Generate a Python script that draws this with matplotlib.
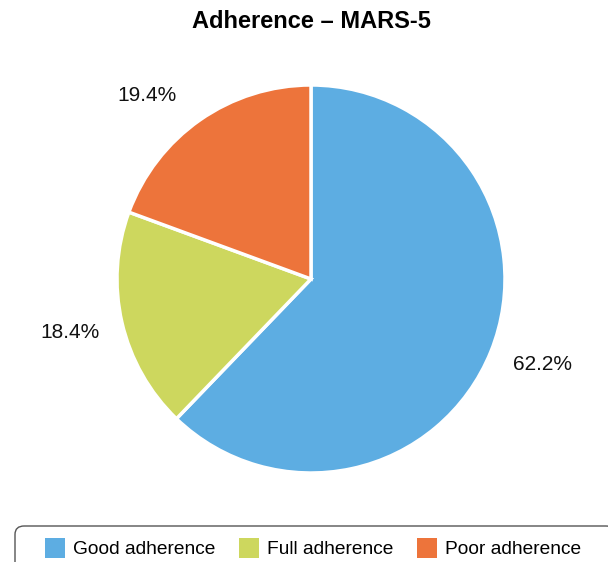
import numpy as np
import matplotlib.pyplot as plt
from matplotlib.patches import FancyBboxPatch

plt.rcParams["font.family"] = ["Liberation Sans", "DejaVu Sans"]

categories = ["Good adherence", "Full adherence", "Poor adherence"]
shares = [62.2, 18.4, 19.4]
colors = ["#5DADE2", "#CDD75E", "#ED743B"]
title = "Adherence \u2013 MARS-5"

W, H = 608, 562
fig = plt.figure(figsize=(W / 100, H / 100), dpi=100)

cx, cy, r = 311, 279, 194
ax = fig.add_axes([(cx - r) / W, (H - cy - r) / H, 2 * r / W, 2 * r / H])
wedges, _ = ax.pie(
    shares,
    colors=colors,
    startangle=90,
    counterclock=False,
    wedgeprops=dict(edgecolor="white", linewidth=2.5),
)

# percent labels outside the slices (small angular nudge to mimic the original layout)
label_nudge = [1.7, -0.5, 6.8]
for w, v, nd in zip(wedges, shares, label_nudge):
    ang = np.deg2rad((w.theta1 + w.theta2) / 2 + nd)
    ax.text(1.27 * np.cos(ang), 1.27 * np.sin(ang), f"{v:.1f}%",
            ha="center", va="center", fontsize=15, color="#111111")
ax.set_xlim(-1, 1)
ax.set_ylim(-1, 1)
ax.set_aspect("equal")

fig.text(cx / W, 1 - 22 / H, title, ha="center", va="center",
         fontsize=17, fontweight="bold")

# legend box (runs off the bottom of the canvas)
box = FancyBboxPatch((15 / W, -30 / H), 600 / W, (H - 526 + 30) / H,
                     boxstyle="round,pad=0,rounding_size=0.015",
                     transform=fig.transFigure, facecolor="white",
                     edgecolor="#555555", linewidth=1.0)
fig.patches.append(box)
fig.legend(wedges, categories, loc="center left",
           bbox_to_anchor=(28 / W, 1 - 548 / H), ncol=3, frameon=False,
           fontsize=13.75, handlelength=1.05, handleheight=1.3,
           handletextpad=0.4, columnspacing=1.25)
for h in fig.legends[0].legend_handles:
    h.set_edgecolor("none")

fig.savefig("out.png", dpi=100)
